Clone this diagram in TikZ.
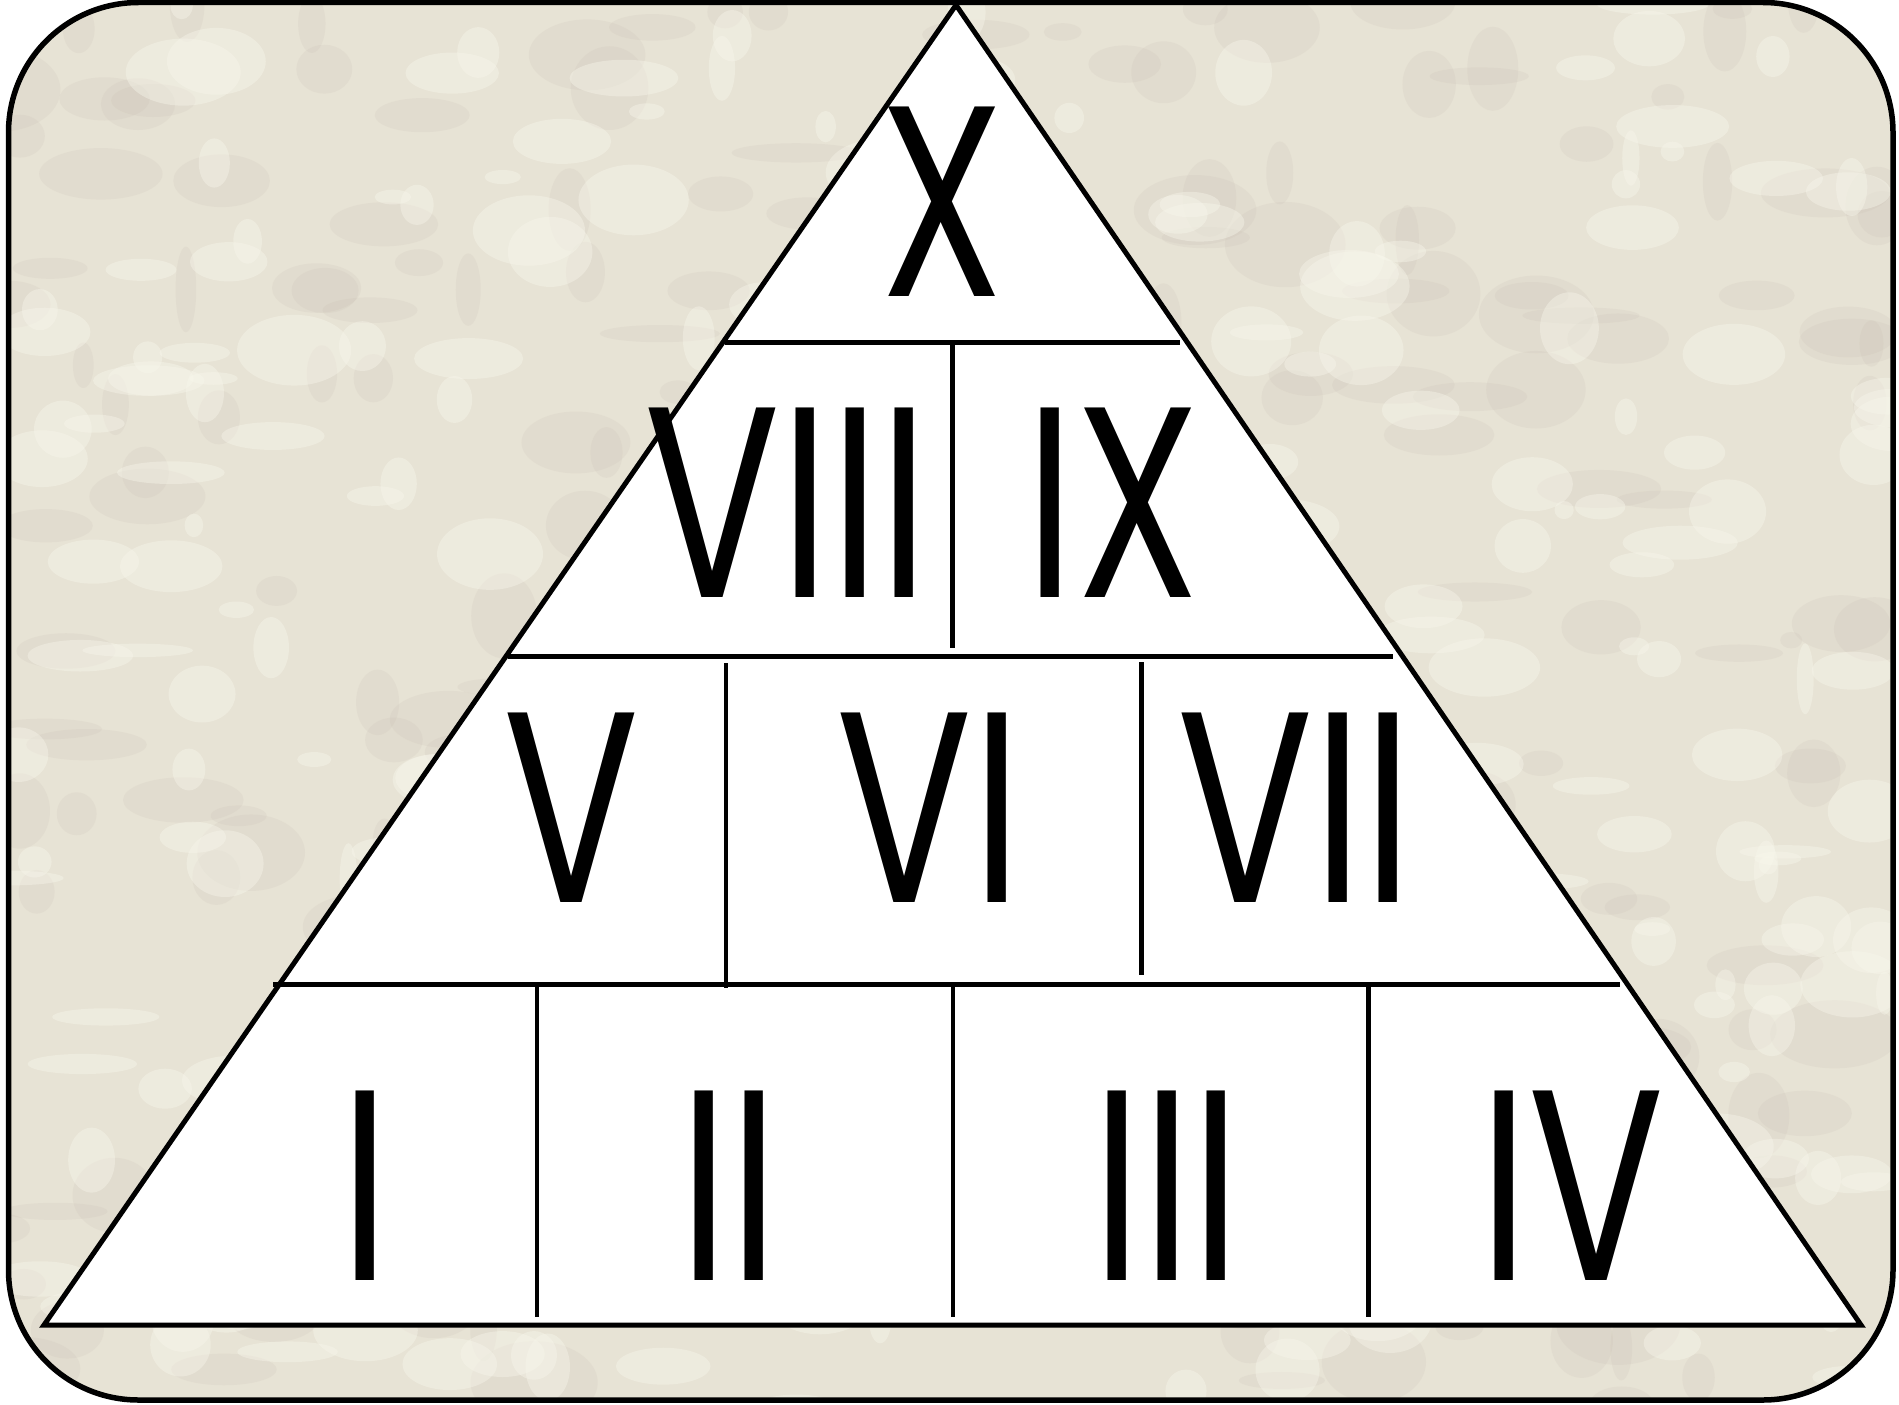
\documentclass[tikz,border=0pt]{standalone}
\usepackage{graphicx}
\usepackage{fontspec}
\newfontfamily\romfont{Poppins}
\definecolor{stone}{RGB}{231,227,213}
\definecolor{stonelight}{RGB}{248,247,236}
\definecolor{stonedark}{RGB}{198,188,176}
\newcommand\rnum[1]{\scalebox{0.74}[1]{#1}}
\tikzset{
  frame/.style={line width=5.5pt, rounded corners=130pt},
  tri/.style={line width=5pt, line join=miter, fill=white},
  hdiv/.style={line width=5pt},
  vdiv/.style={line width=4.5pt},
  num/.style={anchor=base, inner sep=0pt, font=\romfont\fontsize{272}{272}\selectfont}
}
\begin{document}
\begin{tikzpicture}[x=1pt,y=-1pt]
\useasboundingbox (0,0) rectangle (1899,1405);
% textured stone background
\begin{scope}
  \clip[rounded corners=130pt] (8.5,2.5) rectangle (1893,1400);
  \fill[stone] (0,0) rectangle (1899,1405);
  \pgfmathsetseed{11}
  \foreach \i in {1,...,260}{
    \pgfmathsetmacro\px{rnd*1899}
    \pgfmathsetmacro\py{rnd*1405}
    \pgfmathsetmacro\rx{10+rnd*55}
    \pgfmathsetmacro\ry{8+rnd*35}
    \fill[stonedark,opacity=0.16] (\px,\py) ellipse [x radius=\rx, y radius=\ry];
  }
  \foreach \i in {1,...,300}{
    \pgfmathsetmacro\px{rnd*1899}
    \pgfmathsetmacro\py{rnd*1405}
    \pgfmathsetmacro\rx{8+rnd*50}
    \pgfmathsetmacro\ry{6+rnd*30}
    \fill[stonelight,opacity=0.4] (\px,\py) ellipse [x radius=\rx, y radius=\ry];
  }
\end{scope}
\draw[frame] (8.5,2.5) rectangle (1893,1400);
% triangle
\coordinate (A) at (956,5);
\coordinate (BR) at (1861,1325);
\coordinate (BL) at (44,1325);
\draw[tri] (A) -- (BR) -- (BL) -- cycle;
% divider end points
\coordinate (l1a) at (725,342.3);  \coordinate (l1b) at (1180,342.3);
\coordinate (v1a) at (952.7,342.3); \coordinate (v1b) at (952.7,648);
\coordinate (l2a) at (508,656);    \coordinate (l2b) at (1393,656);
\coordinate (v2a) at (726,663);    \coordinate (v2b) at (726,988);
\coordinate (v3a) at (1141.5,662); \coordinate (v3b) at (1141.5,975);
\coordinate (l3a) at (273,984.7);  \coordinate (l3b) at (1620,984.7);
\coordinate (v4a) at (537,987);    \coordinate (v4b) at (537,1317);
\coordinate (v5a) at (953,987);    \coordinate (v5b) at (953,1317);
\coordinate (v6a) at (1368.5,987); \coordinate (v6b) at (1368.5,1317);
\draw[hdiv] (l1a) -- (l1b);
\draw[hdiv] (l2a) -- (l2b);
\draw[hdiv] (l3a) -- (l3b);
\draw[vdiv] (v1a) -- (v1b);
\draw[vdiv] (v2a) -- (v2b);
\draw[vdiv] (v3a) -- (v3b);
\draw[vdiv] (v4a) -- (v4b);
\draw[vdiv] (v5a) -- (v5b);
\draw[vdiv] (v6a) -- (v6b);
% numerals
\node[num] (n10) at (942,296.7) {\rnum{X}};
\node[num] (n8) at (787,597) {\rnum{VIII}};
\node[num] (n9) at (1113,597) {\rnum{IX}};
\node[num] (n5) at (572,902) {\rnum{V}};
\node[num] (n6) at (929,902) {\rnum{VI}};
\node[num] (n7) at (1295,902) {\rnum{VII}};
\node[num] (n1) at (365,1280) {\rnum{I}};
\node[num] (n2) at (729,1280) {\rnum{II}};
\node[num] (n3) at (1167,1280) {\rnum{III}};
\node[num] (n4) at (1572,1280) {\rnum{IV}};
\end{tikzpicture}
\end{document}
